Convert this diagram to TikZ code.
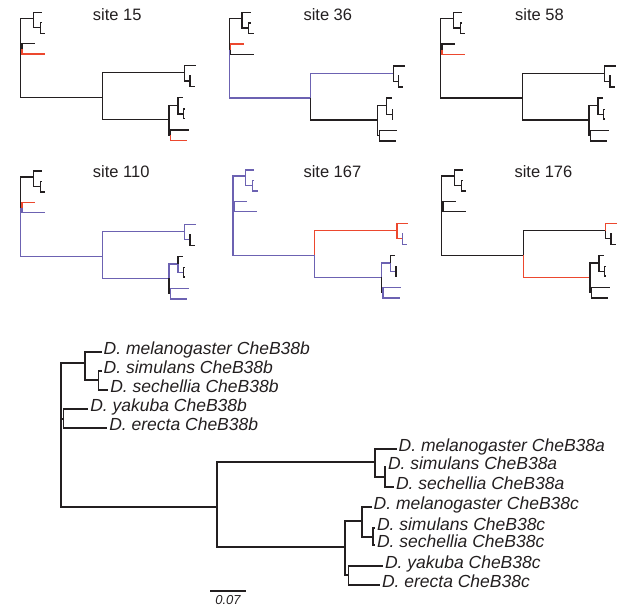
\documentclass[tikz,border=0pt]{standalone}
\usepackage{fontspec}
\setmainfont{Liberation Sans}
\usetikzlibrary{calc}
\definecolor{ink}{RGB}{35,31,32}
\definecolor{hot}{RGB}{236,72,46}
\definecolor{lilac}{RGB}{108,98,178}

% the gene tree, in the pixel units of the big panel (y runs down)
\newcommand\drawphylo{%
  \coordinate (R)    at (61,419);
  \coordinate (B1)   at (85,363);
  \coordinate (melb) at (101.7,352);
  \coordinate (B2)   at (98.3,380);
  \coordinate (simb) at (101.7,371);
  \coordinate (secb) at (108.3,390);
  \coordinate (B3)   at (63.3,419);
  \coordinate (yakb) at (88.3,409);
  \coordinate (ereb) at (107.3,428);
  \coordinate (AC)   at (217,507);
  \coordinate (A)    at (375,462);
  \coordinate (mela) at (396.7,449);
  \coordinate (A2)   at (385,477);
  \coordinate (sima) at (386,467);
  \coordinate (seca) at (394,487);
  \coordinate (C)    at (345,547);
  \coordinate (C1)   at (362,521);
  \coordinate (melc) at (371.7,507);
  \coordinate (C2)   at (373,537);
  \coordinate (simc) at (375,528);
  \coordinate (secc) at (375,545);
  \coordinate (C3)   at (348.3,575);
  \coordinate (yakc) at (383,566);
  \coordinate (erec) at (380,585);
  \draw[edge,e-B1]   (R)  |- (B1);
  \draw[edge,e-melb] (B1) |- (melb);
  \draw[edge,e-B2]   (B1) |- (B2);
  \draw[edge,e-simb] (B2) |- (simb);
  \draw[edge,e-secb] (B2) |- (secb);
  \draw[edge,e-B3]   (R)  |- (B3);
  \draw[edge,e-yakb] (B3) |- (yakb);
  \draw[edge,e-ereb] (B3) |- (ereb);
  \draw[edge,e-AC]   (R)  |- (AC);
  \draw[edge,e-A]    (AC) |- (A);
  \draw[edge,e-mela] (A)  |- (mela);
  \draw[edge,e-A2]   (A)  |- (A2);
  \draw[edge,e-sima] (A2) |- (sima);
  \draw[edge,e-seca] (A2) |- (seca);
  \draw[edge,e-C]    (AC) |- (C);
  \draw[edge,e-C1]   (C)  |- (C1);
  \draw[edge,e-melc] (C1) |- (melc);
  \draw[edge,e-C2]   (C1) |- (C2);
  \draw[edge,e-simc] (C2) |- (simc);
  \draw[edge,e-secc] (C2) |- (secc);
  \draw[edge,e-C3]   (C)  |- (C3);
  \draw[edge,e-yakc] (C3) |- (yakc);
  \draw[edge,e-erec] (C3) |- (erec);
}

\begin{document}
\begin{tikzpicture}[
  x=1pt, y=-1pt,
  edge/.style   = {line width=1.35pt, ink},
  mkedge/.style = {e-#1/.style={}},
  mkedge/.list  = {B1,melb,B2,simb,secb,B3,yakb,ereb,AC,A,mela,A2,sima,seca,
                   C,C1,melc,C2,simc,secc,C3,yakc,erec},
  small/.style  = {xscale=0.522, yscale=0.55},
  site/.style   = {anchor=base west, inner sep=0pt, text=ink,
                   font=\fontsize{16.5}{18}\selectfont},
  tip/.style    = {anchor=mid west, inner sep=0pt, xshift=1.8pt, text=ink,
                   font=\fontsize{17.5}{20}\selectfont\itshape},
  bar/.style    = {line width=1.35pt, ink},
]
  \useasboundingbox (0,0) rectangle (621,609);

  % six small copies, one per site; colours mark the changes
  \begin{scope}[name prefix=s15-, shift={(-11.1,-181.3)}, small,
      e-ereb/.style={hot}, e-erec/.style={hot}]
    \drawphylo
  \end{scope}
  \begin{scope}[name prefix=s36-, shift={(197.5,-180.9)}, small,
      e-yakb/.style={hot}, e-AC/.style={lilac}, e-A/.style={lilac}]
    \drawphylo
  \end{scope}
  \begin{scope}[name prefix=s58-, shift={(408.9,-180.9)}, small,
      e-ereb/.style={hot}]
    \drawphylo
  \end{scope}
  \begin{scope}[name prefix=s110-, shift={(-11.1,-22.6)}, small,
      e-yakb/.style={hot}, e-ereb/.style={lilac}, e-AC/.style={lilac},
      e-A/.style={lilac}, e-mela/.style={lilac}, e-A2/.style={lilac},
      e-C/.style={lilac}, e-C1/.style={lilac}, e-C2/.style={lilac},
      e-yakc/.style={lilac}, e-erec/.style={lilac}]
    \drawphylo
  \end{scope}
  \begin{scope}[name prefix=s167-, shift={(201.2,-23.6)}, small,
      edge/.append style={lilac},
      e-A/.style={hot}, e-mela/.style={hot}, e-A2/.style={hot},
      e-melc/.style={ink}, e-simc/.style={ink}, e-secc/.style={ink},
      e-C3/.style={ink}]
    \drawphylo
  \end{scope}
  \begin{scope}[name prefix=s176-, shift={(409.9,-23.6)}, small,
      e-mela/.style={hot}, e-C/.style={hot}]
    \drawphylo
  \end{scope}

  \node[site] (t15)  at (92.7,21)    {site 15};
  \node[site] (t36)  at (303.3,21)   {site 36};
  \node[site] (t58)  at (515,21)     {site 58};
  \node[site] (t110) at (92.7,177.5) {site 110};
  \node[site] (t167) at (303.3,177.5){site 167};
  \node[site] (t176) at (514.3,177.5){site 176};

  % the full tree with its names
  \begin{scope}[name prefix=big-]
    \drawphylo
    \node[tip] (l-melb) at (melb) {D. melanogaster CheB38b};
    \node[tip] (l-simb) at (simb) {D. simulans CheB38b};
    \node[tip] (l-secb) at (secb) {D. sechellia CheB38b};
    \node[tip] (l-yakb) at (yakb) {D. yakuba CheB38b};
    \node[tip] (l-ereb) at (ereb) {D. erecta CheB38b};
    \node[tip] (l-mela) at (mela) {D. melanogaster CheB38a};
    \node[tip] (l-sima) at (sima) {D. simulans CheB38a};
    \node[tip] (l-seca) at (seca) {D. sechellia CheB38a};
    \node[tip] (l-melc) at (melc) {D. melanogaster CheB38c};
    \node[tip] (l-simc) at (simc) {D. simulans CheB38c};
    \node[tip] (l-secc) at (secc) {D. sechellia CheB38c};
    \node[tip] (l-yakc) at (yakc) {D. yakuba CheB38c};
    \node[tip] (l-erec) at (erec) {D. erecta CheB38c};
  \end{scope}

  % scale bar
  \coordinate (sb0) at (210,591);
  \coordinate (sb1) at (246,591);
  \draw[bar] (sb0) -- (sb1);
  \node[below=4pt, inner sep=0pt, text=ink, font=\fontsize{13}{14}\selectfont\itshape]
    (sbl) at ($(sb0)!0.5!(sb1)$) {0.07};
\end{tikzpicture}
\end{document}
